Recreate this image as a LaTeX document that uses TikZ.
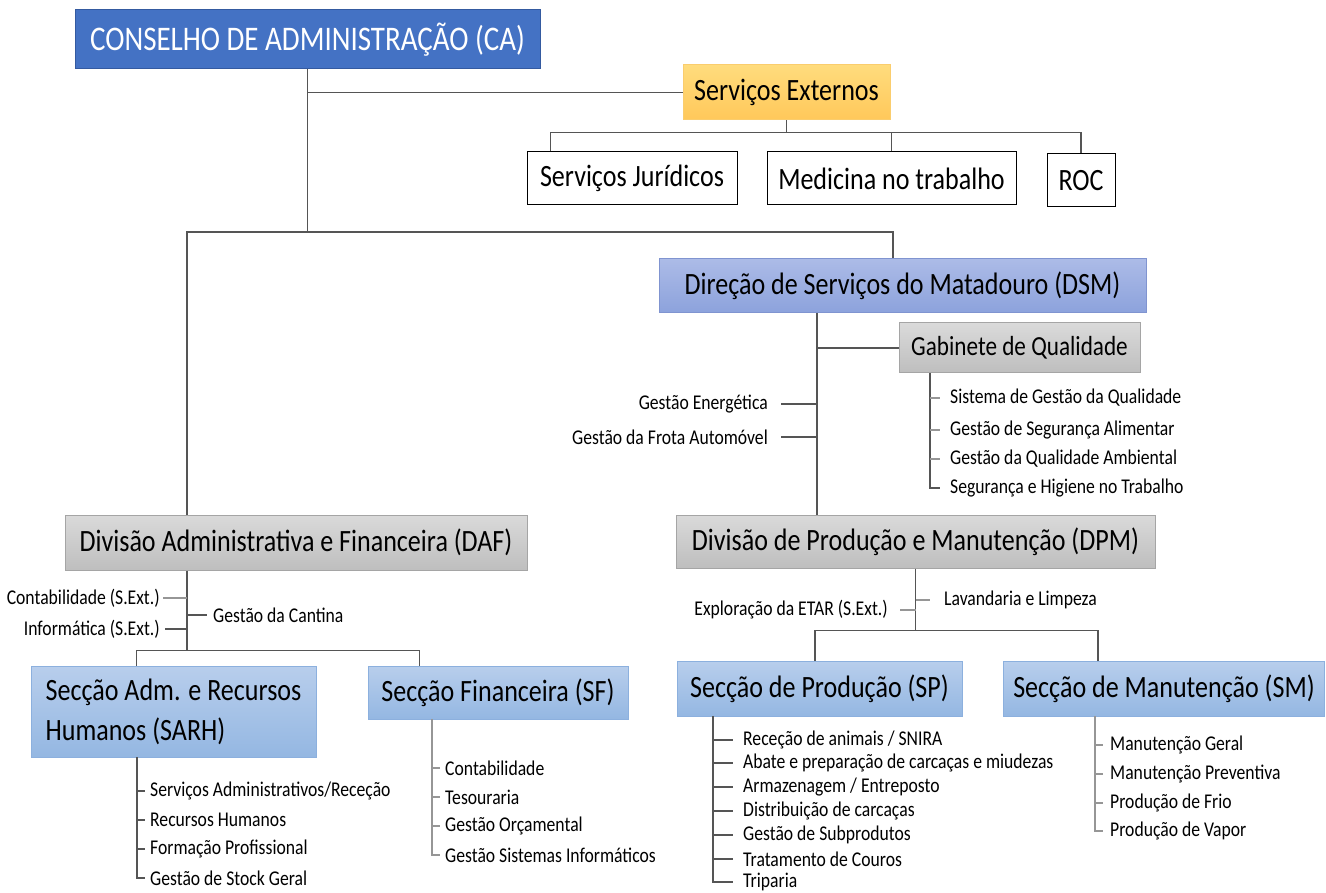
\documentclass[tikz,border=0pt]{standalone}
\usepackage{fontspec}
\setmainfont{Carlito}[FakeStretch=0.84]
\usepackage{tikz}
\usetikzlibrary{positioning}

\definecolor{cablue}{RGB}{68,114,196}
\definecolor{caborder}{RGB}{52,90,160}
\definecolor{exttop}{RGB}{255,220,125}
\definecolor{extbot}{RGB}{255,200,90}
\definecolor{extborder}{RGB}{250,205,110}
\definecolor{dsmtop}{RGB}{172,187,231}
\definecolor{dsmbot}{RGB}{140,162,220}
\definecolor{dsmborder}{RGB}{128,148,208}
\definecolor{divtop}{RGB}{218,218,218}
\definecolor{divbot}{RGB}{190,190,190}
\definecolor{divborder}{RGB}{165,165,165}
\definecolor{secttop}{RGB}{184,206,236}
\definecolor{sectbot}{RGB}{148,183,226}
\definecolor{sectborder}{RGB}{140,176,222}
\definecolor{linkgray}{RGB}{85,85,85}
\definecolor{tickgray}{RGB}{150,150,150}

\begin{document}
\begin{tikzpicture}[x=1pt, y=-1pt,
    box/.style={rectangle, draw, line width=1pt, inner sep=0pt, font=\fontsize{31}{40}\selectfont},
    cabox/.style={box, fill=cablue, draw=caborder, text=white, font=\fontsize{34.5}{40}\selectfont},
    extbox/.style={box, top color=exttop, bottom color=extbot, draw=extborder},
    plainbox/.style={box, fill=white, draw=black},
    dirbox/.style={box, top color=dsmtop, bottom color=dsmbot, draw=dsmborder},
    divbox/.style={box, top color=divtop, bottom color=divbot, draw=divborder},
    sectbox/.style={box, top color=secttop, bottom color=sectbot, draw=sectborder},
    subitem/.style={anchor=west, inner xsep=#1, inner ysep=1pt, font=\fontsize{21}{24}\selectfont},
    subitem/.default=5pt,
    sideitem/.style={subitem=#1, anchor=east},
    link/.style={draw=linkgray, line width=1.3pt},
    tick/.style={draw=tickgray, line width=1.3pt}
]
\useasboundingbox (0,0) rectangle (1326,893);

% top level
\node[cabox, minimum width=465pt, minimum height=59pt] (ca) at (307.5,39.5) {CONSELHO DE ADMINISTRAÇÃO (CA)};
\node[extbox, minimum width=207pt, minimum height=55pt] (servext) at (786.5,92.5) {Serviços Externos};
\node[plainbox, minimum width=210pt, minimum height=53pt] (jur) at (632,178.5) {Serviços Jurídicos};
\node[plainbox, minimum width=249pt, minimum height=53pt] (med) at (891.5,178.5) {Medicina no trabalho};
\node[plainbox, minimum width=68pt, minimum height=53pt] (roc) at (1081,180.5) {ROC};

% direcao e gabinete
\node[dirbox, minimum width=487pt, minimum height=54pt] (dsm) at (902.5,286) {Direção de Serviços do Matadouro (DSM)};
\node[divbox, minimum width=241pt, minimum height=50pt, font=\fontsize{27.6}{33}\selectfont] (gabq) at (1019.5,348) {Gabinete de Qualidade};

% divisoes
\node[divbox, minimum width=462pt, minimum height=55pt] (daf) at (296,542.5) {Divisão Administrativa e Financeira (DAF)};
\node[divbox, minimum width=479pt, minimum height=53pt] (dpm) at (915.5,541.5) {Divisão de Produção e Manutenção (DPM)};

% seccoes
\node[sectbox, minimum width=285pt, minimum height=91pt, align=left] (sarh) at (173.5,711.5) {Secção Adm. e Recursos\\Humanos (SARH)};
\node[sectbox, minimum width=260pt, minimum height=53pt] (sf) at (498,692.5) {Secção Financeira (SF)};
\node[sectbox, minimum width=285pt, minimum height=55pt] (sp) at (819.5,688.5) {Secção de Produção (SP)};
\node[sectbox, minimum width=321pt, minimum height=55pt] (sm) at (1164,688.5) {Secção de Manutenção (SM)};

% itens soltos
\node[sideitem=13pt] (energ) at (781,404) {Gestão Energética};
\node[sideitem=13pt] (frota) at (781,437) {Gestão da Frota Automóvel};
\node[sideitem=3pt] (context) at (163,598) {Contabilidade (S.Ext.)};
\node[sideitem=5pt] (infext) at (165,629) {Informática (S.Ext.)};
\node[subitem=6pt] (cantina) at (207,615) {Gestão da Cantina};
\node[subitem=14pt] (lavand) at (930,600) {Lavandaria e Limpeza};
\node[sideitem=12pt] (etar) at (900,610) {Exploração da ETAR (S.Ext.)};

% gabinete de qualidade
\node[subitem=10pt] (gq1) at (940,398) {Sistema de Gestão da Qualidade};
\node[subitem=10pt] (gq2) at (940,430) {Gestão de Segurança Alimentar};
\node[subitem=10pt] (gq3) at (940,459) {Gestão da Qualidade Ambiental};
\node[subitem=10pt] (gq4) at (940,488) {Segurança e Higiene no Trabalho};

% SARH
\node[subitem] (sarh1) at (145,791) {Serviços Administrativos/Receção};
\node[subitem] (sarh2) at (145,820) {Recursos Humanos};
\node[subitem] (sarh3) at (145,849) {Formação Profissional};
\node[subitem] (sarh4) at (145,878) {Gestão de Stock Geral};

% SF
\node[subitem] (sf1) at (440,768) {Contabilidade};
\node[subitem] (sf2) at (440,797) {Tesouraria};
\node[subitem] (sf3) at (440,826) {Gestão Orçamental};
\node[subitem] (sf4) at (440,855) {Gestão Sistemas Informáticos};

% SP
\node[subitem=10pt] (sp1) at (733,740) {Receção de animais / SNIRA};
\node[subitem=10pt] (sp2) at (733,763) {Abate e preparação de carcaças e miudezas};
\node[subitem=10pt] (sp3) at (733,787) {Armazenagem / Entreposto};
\node[subitem=10pt] (sp4) at (733,811) {Distribuição de carcaças};
\node[subitem=10pt] (sp5) at (733,835) {Gestão de Subprodutos};
\node[subitem=10pt] (sp6) at (733,859) {Tratamento de Couros};
\node[subitem=10pt] (sp7) at (733,882) {Triparia};

% SM
\node[subitem=7pt] (sm1) at (1103,745) {Manutenção Geral};
\node[subitem=7pt] (sm2) at (1103,774) {Manutenção Preventiva};
\node[subitem=7pt] (sm3) at (1103,803) {Produção de Frio};
\node[subitem=7pt] (sm4) at (1103,831) {Produção de Vapor};

% ligacoes de topo
\coordinate (cabus) at (307.5,232);
\coordinate (leftbus) at (187,232);
\draw[link] (ca.south) -- (cabus);
\draw[link] (ca.south |- servext.west) -- (servext.west);
\draw[link] (daf.north -| leftbus) -- (leftbus) -| ([xshift=-9.5pt]dsm.north);
\draw[link] (servext.south) -- ++(0,12) coordinate (extbus);
\draw[link] ([xshift=24pt]jur.north west) |- (extbus) -| (roc.north);
\draw[link] (med.north) -- (med.north |- extbus);

% DSM
\coordinate (dsmsp) at (817,313);
\draw[link] (dsmsp) -- (dsmsp |- dpm.north);
\draw[link] (dsmsp |- gabq.west) -- (gabq.west);
\draw[link] (energ.east) -- (energ.east -| dsmsp);
\draw[link] (frota.east) -- (frota.east -| dsmsp);
\coordinate (gqsp) at (930,373);
\draw[link] (gqsp) |- (gq4.west);
\draw[tick] (gqsp |- gq1.west) -- (gq1.west) (gqsp |- gq2.west) -- (gq2.west)
  (gqsp |- gq3.west) -- (gq3.west);

% DAF
\draw[link] (daf.south -| leftbus) -- ++(0,80) coordinate (dafbus);
\draw[tick] (context.east) -- (context.east -| dafbus);
\draw[link] (infext.east) -- (infext.east -| dafbus);
\draw[link] (cantina.west -| dafbus) -- (cantina.west);
\draw[link] ([xshift=106pt]sarh.north west) |- (dafbus) -| ([xshift=52pt]sf.north west);
\coordinate (sarhsp) at (137,757);
\draw[link] (sarhsp) |- (sarh4.west);
\draw[link] (sarhsp |- sarh1.west) -- (sarh1.west) (sarhsp |- sarh2.west) -- (sarh2.west)
  (sarhsp |- sarh3.west) -- (sarh3.west);
\coordinate (sfsp) at (432,719);
\draw[tick] (sfsp) |- (sf4.west);
\draw[tick] (sfsp |- sf1.west) -- (sf1.west) (sfsp |- sf2.west) -- (sf2.west)
  (sfsp |- sf3.west) -- (sf3.west);

% DPM
\draw[link] (dpm.south) -- ++(0,62) coordinate (dpmbus);
\draw[tick] (lavand.west -| dpmbus) -- (lavand.west);
\draw[tick] (etar.east) -- (etar.east -| dpmbus);
\draw[link] ([xshift=-4.5pt]sp.north) |- (dpmbus) -| ([xshift=95pt]sm.north west);
\coordinate (spsp) at (713,716);
\draw[link] (spsp) |- (sp7.west);
\draw[link] (spsp |- sp1.west) -- (sp1.west) (spsp |- sp2.west) -- (sp2.west)
  (spsp |- sp3.west) -- (sp3.west) (spsp |- sp4.west) -- (sp4.west)
  (spsp |- sp5.west) -- (sp5.west) (spsp |- sp6.west) -- (sp6.west);
\coordinate (smsp) at (1095,716);
\draw[tick] (smsp) |- (sm4.west);
\draw[tick] (smsp |- sm1.west) -- (sm1.west) (smsp |- sm2.west) -- (sm2.west)
  (smsp |- sm3.west) -- (sm3.west);
\end{tikzpicture}
\end{document}
